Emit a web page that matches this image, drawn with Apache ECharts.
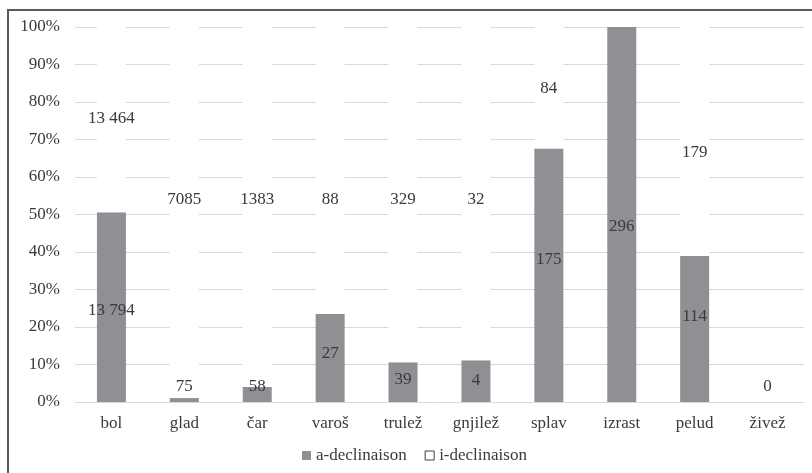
<!DOCTYPE html>
<html>
<head>
<meta charset="utf-8">
<title>a-declinaison / i-declinaison</title>
<script src="https://cdn.jsdelivr.net/npm/echarts@6/dist/echarts.min.js"></script>
<style>
  html, body { margin: 0; padding: 0; background: #ffffff; }
  #chart { width: 812px; height: 473px; }
</style>
</head>
<body>
<div id="chart"></div>
<script>
// Nouns and their counts by declension type
var categories = ['bol', 'glad', 'čar', 'varoš', 'trulež', 'gnjilež', 'splav', 'izrast', 'pelud', 'živež'];
var aCounts = [13794, 75, 58, 27, 39, 4, 175, 296, 114, 0];
var iCounts = [13464, 7085, 1383, 88, 329, 32, 84, 0, 179, 0];
var percentTicks = [0, 10, 20, 30, 40, 50, 60, 70, 80, 90, 100];

// Height (in % of the axis) where each count label sits
var aLabelAt = [24.5, 4.0, 4.0, 12.8, 6.1, 5.6, 38.1, 46.7, 22.7, 4.0];
var iLabelAt = [75.7, 54.1, 54.1, 54.1, 54.1, 54.1, 83.5, 0, 66.4, 0];

var FONT = '"Liberation Serif", "Times New Roman", serif';
var TEXT = '#3a3a3a';
var GRID_TOP = 27, GRID_BOTTOM = 71;

function share(part, other) {
  var total = part + other;
  return total ? part / total * 100 : 0;
}
function fmt(n) {
  var s = String(n);
  return n >= 10000 ? s.replace(/\B(?=(\d{3})+(?!\d))/g, ' ') : s;
}

var aShare = aCounts.map(function (v, i) { return share(v, iCounts[i]); });
var iShare = iCounts.map(function (v, i) { return share(v, aCounts[i]); });

var chart = echarts.init(document.getElementById('chart'), null, { renderer: 'canvas' });

function yPixel(p) {
  var y = chart.convertToPixel({ yAxisIndex: 0 }, p);
  if (y == null || isNaN(y)) {
    var h = 473 - GRID_TOP - GRID_BOTTOM;
    y = GRID_TOP + (100 - p) / 100 * h;
  }
  return y;
}

function placeLabel(at) {
  return function (p) {
    return {
      x: p.rect.x + p.rect.width / 2,
      y: yPixel(at[p.dataIndex]),
      align: 'center',
      verticalAlign: 'middle'
    };
  };
}

var labelStyle = {
  show: true,
  position: 'inside',
  color: TEXT,
  fontFamily: FONT,
  fontSize: 17
};

chart.setOption({
  animation: false,
  backgroundColor: '#ffffff',
  textStyle: { fontFamily: FONT },
  graphic: [{
    type: 'rect',
    shape: { x: 8, y: 10, width: 820, height: 480 },
    style: { fill: 'none', stroke: '#5a5a5a', lineWidth: 2 },
    silent: true,
    z: 100
  }],
  grid: { left: 75, right: 8, top: GRID_TOP, bottom: GRID_BOTTOM },
  legend: {
    left: 302,
    top: 447,
    padding: 0,
    itemWidth: 9,
    itemHeight: 9,
    itemGap: 18,
    icon: 'rect',
    textStyle: { color: TEXT, fontFamily: FONT, fontSize: 17 },
    data: [
      { name: 'a-declinaison', itemStyle: { color: '#8f9094' } },
      { name: 'i-declinaison', itemStyle: { color: '#ffffff', borderColor: '#404040', borderWidth: 1 } }
    ]
  },
  xAxis: {
    type: 'category',
    data: categories,
    axisLine: { show: true, lineStyle: { color: '#d9d9d9', width: 1 } },
    axisTick: { show: false },
    axisLabel: { color: TEXT, fontFamily: FONT, fontSize: 17, margin: 13 }
  },
  yAxis: {
    type: 'value',
    min: percentTicks[0],
    max: percentTicks[percentTicks.length - 1],
    interval: 10,
    axisLine: { show: false },
    axisTick: { show: false },
    splitLine: { show: true, lineStyle: { color: '#d9d9d9', width: 1 } },
    axisLabel: {
      color: TEXT, fontFamily: FONT, fontSize: 17, margin: 15,
      formatter: function (v) { return v + '%'; }
    }
  },
  series: [
    {
      name: 'a-declinaison',
      type: 'bar',
      stack: 'total',
      barWidth: 29,
      data: aShare,
      itemStyle: { color: '#8f9094' },
      label: Object.assign({}, labelStyle, {
        formatter: function (p) { return fmt(aCounts[p.dataIndex]); }
      }),
      labelLayout: placeLabel(aLabelAt)
    },
    {
      name: 'i-declinaison',
      type: 'bar',
      stack: 'total',
      barWidth: 29,
      data: iShare,
      itemStyle: { color: '#ffffff' },
      label: Object.assign({}, labelStyle, {
        formatter: function (p) {
          var n = iCounts[p.dataIndex];
          return n > 0 ? fmt(n) : '';
        }
      }),
      labelLayout: placeLabel(iLabelAt)
    }
  ]
});
</script>
</body>
</html>
